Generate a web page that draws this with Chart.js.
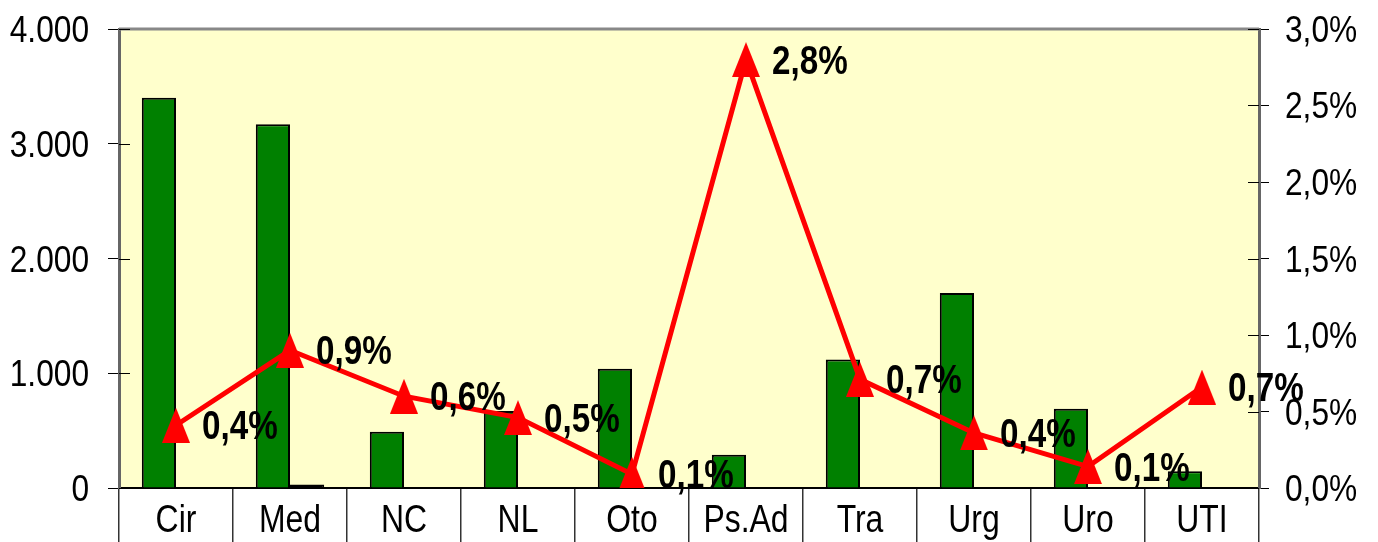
<!DOCTYPE html>
<html lang="pt">
<head>
    <meta charset="UTF-8">
    <title>Taxa por clínica</title>
    <script src="https://cdn.jsdelivr.net/npm/chart.js"></script>
    <style>
        body { margin: 0; background: #fff; }
        #grafico { width: 1378px; height: 542px; }
    </style>
</head>
<body>
<div id="grafico">
    <canvas id="myChartCanvas" width="1378" height="542"></canvas>
</div>
<script>
// dados
const clinicas = ['Cir', 'Med', 'NC', 'NL', 'Oto', 'Ps.Ad', 'Tra', 'Urg', 'Uro', 'UTI'];
const totais = [3400, 3170, 490, 670, 1040, 290, 1120, 1700, 690, 145];
const outros = [0, 30, 0, 0, 0, 0, 0, 0, 0, 0];
const taxas = [0.41, 0.90, 0.60, 0.46, 0.09, 2.80, 0.71, 0.36, 0.14, 0.66];
const ticksEsquerda = [0, 1000, 2000, 3000, 4000];
const ticksDireita = [0, 0.5, 1, 1.5, 2, 2.5, 3];

const FONTE = "'Liberation Sans', Arial, sans-serif";
Chart.defaults.font.family = FONTE;
Chart.defaults.color = '#000';

function formatarMilhar(v) {
    return v === 0 ? '0' : (v / 1000) + '.000';
}

function formatarPct(v) {
    return v.toFixed(1).replace('.', ',') + '%';
}

// texto um pouco estreito, como no original (fonte esticada na vertical)
function textoEstreito(ctx, txt, x, y, alinhar, escala) {
    ctx.save();
    ctx.translate(x, y);
    ctx.scale(escala, 1);
    ctx.textAlign = alinhar;
    ctx.fillText(txt, 0, 0);
    ctx.restore();
}

// triângulo um pouco mais alto que largo
function criarTriangulo() {
    const c = document.createElement('canvas');
    c.width = 28;
    c.height = 35;
    const g = c.getContext('2d');
    g.fillStyle = '#ff0000';
    g.beginPath();
    g.moveTo(14, 0);
    g.lineTo(28, 35);
    g.lineTo(0, 35);
    g.closePath();
    g.fill();
    return c;
}

const fundoPlugin = {
    id: 'fundo',
    beforeDraw(chart) {
        const a = chart.chartArea;
        const ctx = chart.ctx;
        ctx.save();
        ctx.fillStyle = '#ffffcc';
        ctx.fillRect(a.left, a.top, a.right - a.left, a.bottom - a.top);
        ctx.restore();
    },
    afterDraw(chart) {
        const a = chart.chartArea;
        const ctx = chart.ctx;
        ctx.save();
        ctx.strokeStyle = '#888';
        ctx.lineWidth = 3;
        ctx.beginPath();
        ctx.moveTo(a.left, a.top);
        ctx.lineTo(a.right, a.top);
        ctx.stroke();

        // parte interna dos traços e rótulos dos eixos
        ctx.strokeStyle = '#000';
        ctx.lineWidth = 1;
        ctx.fillStyle = '#000';
        ctx.font = '36px ' + FONTE;
        ctx.textBaseline = 'alphabetic';
        ['y', 'y1'].forEach(function (id) {
            const s = chart.scales[id];
            const esq = id === 'y';
            const x = esq ? a.left : a.right;
            const dir = esq ? 1 : -1;
            s.ticks.forEach(function (t) {
                const py = Math.round(s.getPixelForValue(t.value)) + 0.5;
                ctx.beginPath();
                ctx.moveTo(x, py);
                ctx.lineTo(x + dir * 11, py);
                ctx.stroke();
                if (esq) {
                    textoEstreito(ctx, formatarMilhar(t.value), 89, py + 12, 'right', 0.88);
                } else {
                    textoEstreito(ctx, formatarPct(t.value), 1285, py + 12, 'left', 0.88);
                }
            });
        });

        const sx = chart.scales.x;
        ctx.font = '38px ' + FONTE;
        clinicas.forEach(function (c, i) {
            textoEstreito(ctx, c, sx.getPixelForValue(i), a.bottom + 44, 'center', 0.84);
        });
        ctx.restore();
    }
};

const rotulosPlugin = {
    id: 'rotulos',
    afterDatasetsDraw(chart) {
        const meta = chart.getDatasetMeta(0);
        const ctx = chart.ctx;
        ctx.save();
        ctx.fillStyle = '#000';
        ctx.font = 'bold 40px ' + FONTE;
        ctx.textBaseline = 'alphabetic';
        meta.data.forEach(function (pt, i) {
            textoEstreito(ctx, formatarPct(taxas[i]), pt.x + 26, pt.y + 14, 'left', 0.83);
        });
        ctx.restore();
    }
};

const config = {
    type: 'bar',
    data: {
        labels: clinicas,
        datasets: [
            {
                type: 'line',
                label: 'Taxa',
                data: taxas,
                yAxisID: 'y1',
                borderColor: '#ff0000',
                borderWidth: 5,
                pointStyle: criarTriangulo(),
                pointRadius: 14,
                order: 0
            },
            {
                label: 'Total',
                data: totais,
                yAxisID: 'y',
                backgroundColor: '#008000',
                borderColor: '#000',
                borderWidth: 2,
                borderSkipped: 'bottom',
                categoryPercentage: 0.6,
                barPercentage: 1.0,
                order: 1
            },
            {
                label: 'Outros',
                data: outros,
                yAxisID: 'y',
                backgroundColor: '#000',
                borderColor: '#000',
                borderWidth: 2,
                borderSkipped: 'bottom',
                categoryPercentage: 0.6,
                barPercentage: 1.0,
                order: 1
            }
        ]
    },
    options: {
        responsive: false,
        animation: false,
        layout: { padding: { top: 29 } },
        plugins: {
            legend: { display: false },
            tooltip: { enabled: false }
        },
        scales: {
            x: {
                grid: {
                    offset: true,
                    drawOnChartArea: false,
                    tickLength: 60,
                    color: '#333',
                    lineWidth: 1.5
                },
                border: { color: '#000', width: 2 },
                ticks: { display: false },
                afterFit: function (s) { s.height = 54; }
            },
            y: {
                position: 'left',
                min: 0,
                max: 4000,
                afterBuildTicks: function (s) {
                    s.ticks = ticksEsquerda.map(v => ({ value: v }));
                },
                grid: { drawOnChartArea: false, tickLength: 11, color: '#000' },
                border: { color: '#666', width: 3 },
                ticks: { display: false },
                afterFit: function (s) { s.width = 119; }
            },
            y1: {
                position: 'right',
                min: 0,
                max: 3,
                afterBuildTicks: function (s) {
                    s.ticks = ticksDireita.map(v => ({ value: v }));
                },
                grid: { drawOnChartArea: false, tickLength: 10, color: '#000' },
                border: { color: '#666', width: 3 },
                ticks: { display: false },
                afterFit: function (s) { s.width = 119; }
            }
        }
    },
    plugins: [fundoPlugin, rotulosPlugin]
};

new Chart(document.getElementById('myChartCanvas'), config);
</script>
</body>
</html>
